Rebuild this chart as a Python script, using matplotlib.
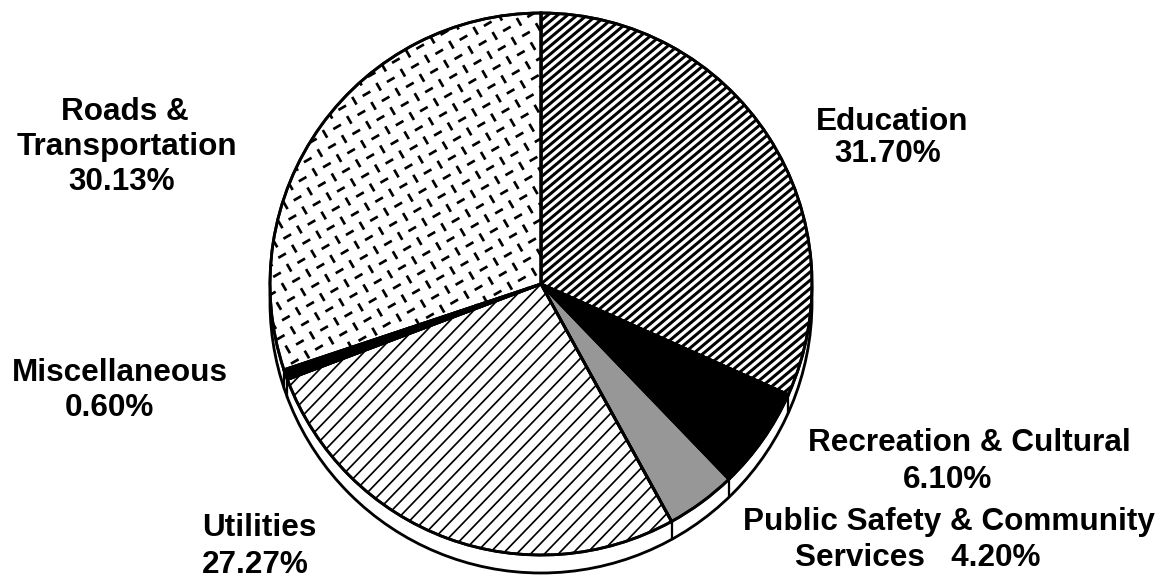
import numpy as np
import matplotlib
matplotlib.use("Agg")
import matplotlib.pyplot as plt
from matplotlib.patches import Circle, PathPatch
from matplotlib.collections import LineCollection

# expenditure shares, clockwise from twelve o'clock
categories = ["Education", "Recreation & Cultural", "Public Safety & Community Services",
              "Utilities", "Miscellaneous", "Roads & Transportation"]
shares = [31.70, 6.10, 4.20, 27.27, 0.60, 30.13]

W, H, DPI = 1168, 580, 100
CX, CY, R = 541, 284, 271          # pie centre / radius in pixels
DEPTH = 18 / R                     # rim thickness in pie units
PT = 72 / DPI                      # points per pixel

fig = plt.figure(figsize=(W / DPI, H / DPI), dpi=DPI)
ax = fig.add_axes([0, 0, 1, 1])
ax.axis("off")

lw = 2.8 * PT

# the rim under the pie
ax.add_patch(Circle((0, -DEPTH), 1, facecolor="white", edgecolor="black", lw=lw, zorder=1))

wedges, _ = ax.pie(shares, startangle=90, counterclock=False, radius=1,
                   wedgeprops=dict(edgecolor="black", linewidth=lw, zorder=2))
ax.set_xlim(-CX / R, (W - CX) / R)
ax.set_ylim(-(H - CY) / R, CY / R)
ax.set_aspect("auto")

edu, rec, pub, uti, misc, roads = wedges
for w in (edu, uti, roads):
    w.set_facecolor("white")
rec.set_facecolor("black")
misc.set_facecolor("black")
pub.set_facecolor("#979797")


def hatch(patch, angle, spacing, width):
    """parallel lines across a wedge, spacing and width in pixels"""
    t = np.radians(angle)
    d = np.array([np.cos(t), np.sin(t)])
    n = np.array([-d[1], d[0]])
    s = spacing / R
    segs = [[k * s * n - 1.5 * d, k * s * n + 1.5 * d]
            for k in range(int(-1.5 / s), int(1.5 / s) + 1)]
    lc = LineCollection(segs, colors="black", linewidths=width * PT, zorder=2.5)
    ax.add_collection(lc)
    lc.set_clip_path(patch)


hatch(edu, 40, 6.3, 3.0)
hatch(uti, 46, 10.0, 1.7)

# dashed lattice texture for the roads slice
a = 14.0 / R
ln = 4.4 / R
u = np.array([np.cos(np.radians(30)), np.sin(np.radians(30))])
v = np.array([-u[1], u[0]])
segs = []
for i in range(-50, 51):
    for j in range(-50, 51):
        p = i * a * u + j * a * v
        if abs(p[0]) > 1.05 or abs(p[1]) > 1.05:
            continue
        d = u if (i + j) % 2 == 0 else v
        segs.append([p - d * ln, p + d * ln])
tex = LineCollection(segs, colors="black", linewidths=2.7 * PT, zorder=2.5)
ax.add_collection(tex)
tex.set_clip_path(roads)

# redraw slice outlines above the textures
for w in wedges:
    ax.add_patch(PathPatch(w.get_path(), fill=False, edgecolor="black", lw=lw,
                           zorder=3, transform=ax.transData))

# vertical rim ticks at slice boundaries on the lower half
bounds = 90 - np.cumsum([0] + shares) * 3.6
for t in np.radians(bounds):
    if np.sin(t) < -0.05:
        ax.plot([np.cos(t)] * 2, [np.sin(t), np.sin(t) - DEPTH],
                color="black", lw=lw * 0.8, zorder=1.5)

# labels, placed in pixel coordinates
font = dict(family="Liberation Sans", weight="bold", fontsize=31.5 * PT, color="black")


def label(x, y, s, ha="center"):
    ax.text((x - CX) / R, (CY - y) / R, s, ha=ha, va="center", **font)


label(125, 112, "Roads &")
label(127, 147, "Transportation")
label(122, 182, "30.13%")
label(892, 122, "Education")
label(888, 154, "31.70%")
label(120, 373, "Miscellaneous")
label(109, 408, "0.60%")
label(969, 443, "Recreation & Cultural")
label(948, 480, "6.10%")
label(949, 522, "Public Safety & Community")
label(918, 558, "Services   4.20%")
label(202, 528, "Utilities", ha="left")
label(202, 565, "27.27%", ha="left")

fig.savefig("out.png", dpi=DPI)
